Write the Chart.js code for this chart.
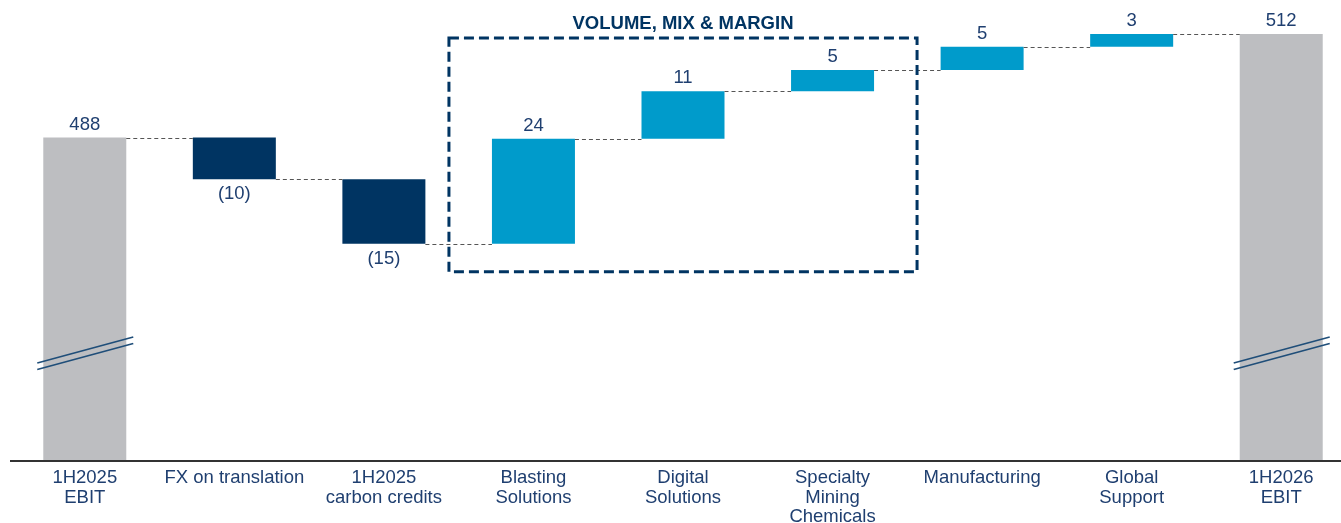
<!DOCTYPE html>
<html><head><meta charset="utf-8">
<script src="https://cdn.jsdelivr.net/npm/chart.js@4.4.1/dist/chart.umd.min.js"></script>
<style>
html,body{margin:0;padding:0;overflow:hidden;background:#fff}
#wrap{width:1356px;height:523px;position:relative}
</style>
</head><body><div id="wrap"><canvas id="c"></canvas></div>
<script>
// ---- data ----
const categories = [["1H2025","EBIT"],["FX on translation"],["1H2025","carbon credits"],["Blasting","Solutions"],["Digital","Solutions"],["Specialty","Mining","Chemicals"],["Manufacturing"],["Global","Support"],["1H2026","EBIT"]];
const startTotal = 487.7;
const changes = [-9.7, -15.0, 24.4, 11.1, 4.9, 5.4, 3.0];
const endTotal = 511.8;
const groupedIdx = [3, 4, 5];
const groupTitle = "VOLUME, MIX & MARGIN";
const axisFloor = 412.7;
const axisCeil = 519.7;

// ---- styles ----
const FONT = '"Liberation Sans", Arial, sans-serif';
const TEXT = '#1F3F70';
const GREY = '#BDBEC1', NAVY = '#003462', CYAN = '#009BCB';

// build floating bars
const bars = [[axisFloor, startTotal]];
const levels = [startTotal];
const colors = [GREY];
const labels = [String(Math.round(startTotal))];
let run = startTotal;
changes.forEach(c => {
  bars.push([run, run + c]);
  run += c;
  levels.push(run);
  colors.push(c < 0 ? NAVY : CYAN);
  labels.push(c < 0 ? '(' + Math.round(-c) + ')' : String(Math.round(c)));
});
bars.push([axisFloor, endTotal]);
levels.push(endTotal);
colors.push(GREY);
labels.push(String(Math.round(endTotal)));

const deco = {
  id: 'deco',
  afterDatasetsDraw(chart) {
    const ctx = chart.ctx;
    const meta = chart.getDatasetMeta(0).data;
    const area = chart.chartArea;
    ctx.save();
    // connectors
    ctx.strokeStyle = '#555';
    ctx.lineWidth = 1;
    ctx.setLineDash([4, 3]);
    for (let i = 0; i < meta.length - 1; i++) {
      const a = meta[i], b = meta[i + 1];
      const y = Math.round(chart.scales.y.getPixelForValue(levels[i])) + 0.5;
      ctx.beginPath();
      ctx.moveTo(a.x + a.width / 2, y);
      ctx.lineTo(b.x - b.width / 2, y);
      ctx.stroke();
    }
    ctx.setLineDash([]);
    // value labels
    ctx.font = '18.5px ' + FONT;
    ctx.fillStyle = TEXT;
    ctx.textAlign = 'center';
    ctx.textBaseline = 'middle';
    meta.forEach((el, i) => {
      const top = Math.min(el.y, el.base), bot = Math.max(el.y, el.base);
      const neg = (i > 0 && i < meta.length - 1 && changes[i - 1] < 0);
      ctx.fillText(labels[i], el.x, neg ? bot + 15 : top - 13);
    });
    // break marks on totals
    ctx.strokeStyle = '#1F4E79';
    ctx.lineWidth = 1.6;
    [0, meta.length - 1].forEach(i => {
      const el = meta[i];
      const x0 = el.x - el.width / 2 - 6, x1 = el.x + el.width / 2 + 7;
      [0, 6.5].forEach(off => {
        ctx.beginPath();
        ctx.moveTo(x0, area.bottom - 97 + off);
        ctx.lineTo(x1, area.bottom - 123 + off);
        ctx.stroke();
      });
    });
    // axis line
    ctx.fillStyle = '#333';
    ctx.fillRect(10, area.bottom, chart.width, 2);
    // dashed group box
    const f = meta[groupedIdx[0]], l = meta[groupedIdx[groupedIdx.length - 1]];
    const bx0 = f.x - f.width / 2 - 43, bx1 = l.x + l.width / 2 + 43;
    const by0 = 38, by1 = Math.max(f.y, f.base) + 28;
    ctx.strokeStyle = NAVY;
    ctx.lineWidth = 3;
    ctx.setLineDash([10, 5]);
    ctx.strokeRect(bx0, by0, bx1 - bx0, by1 - by0);
    ctx.setLineDash([]);
    ctx.font = 'bold 18.5px ' + FONT;
    ctx.fillStyle = NAVY;
    ctx.fillText(groupTitle, (bx0 + bx1) / 2, 24);
    ctx.restore();
  }
};

new Chart(document.getElementById('c'), {
  type: 'bar',
  data: {
    labels: categories,
    datasets: [{
      data: bars,
      backgroundColor: colors,
      borderWidth: 0,
      categoryPercentage: 1,
      barPercentage: 0.555
    }]
  },
  options: {
    responsive: true,
    maintainAspectRatio: false,
    animation: false,
    layout: { padding: { left: 10, right: 0, top: 0, bottom: 0 } },
    plugins: { legend: { display: false }, tooltip: { enabled: false } },
    scales: {
      x: {
        grid: { display: false, drawTicks: false },
        border: { display: false },
        ticks: { color: TEXT, font: { family: FONT, size: 18.5, lineHeight: 1.06 }, padding: 8, maxRotation: 0, autoSkip: false },
        afterFit(s) { s.height = 63; }
      },
      y: { display: false, min: axisFloor, max: axisCeil }
    }
  },
  plugins: [deco]
});
</script>
</body></html>
